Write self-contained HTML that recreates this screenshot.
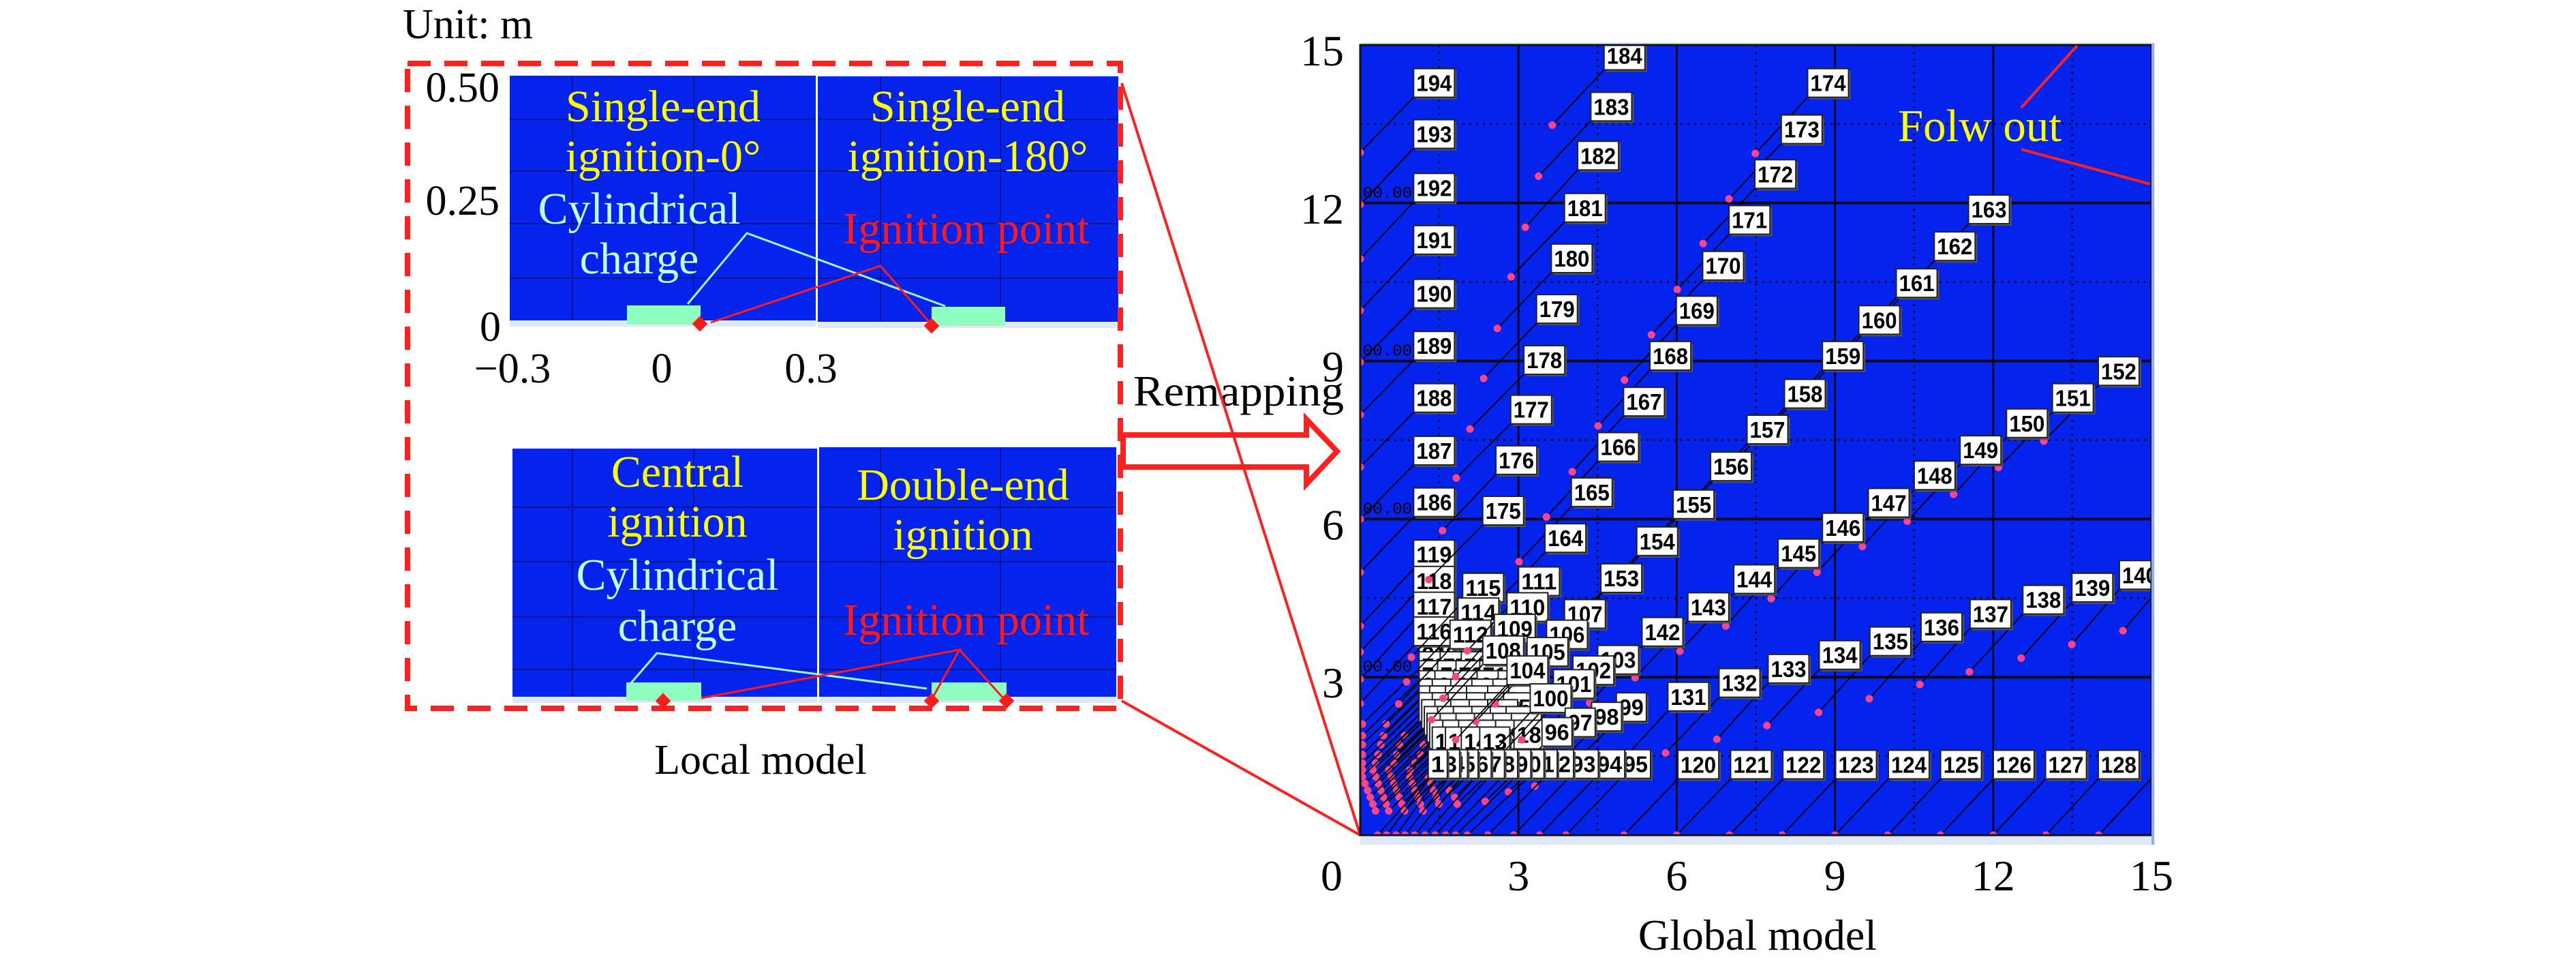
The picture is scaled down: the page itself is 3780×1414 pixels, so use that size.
<!DOCTYPE html>
<html><head><meta charset="utf-8"><style>
html,body{margin:0;padding:0;background:#fff;}
svg{display:block;}
.serif{font-family:"Liberation Serif","DejaVu Serif",serif;}
</style></head><body>
<svg id="fig" width="3780" height="1414" viewBox="0 0 3780 1414" xmlns="http://www.w3.org/2000/svg">
<defs>
<clipPath id="plotclip"><rect x="1996" y="66" width="1161" height="1159"/></clipPath>
</defs>

<!-- LEFT: local model -->
<g class="serif">
<text x="591" y="56" font-size="62">Unit: m</text>
<g>
<rect x="748" y="111" width="449" height="367" fill="#0424ee"/>
<rect x="748" y="470" width="449" height="9" fill="#dfe8f6"/>
<g stroke="#0a1690" stroke-width="2"><line x1="840" y1="111" x2="840" y2="470"/><line x1="1018" y1="111" x2="1018" y2="470"/><line x1="748" y1="251" x2="1197" y2="251"/><line x1="748" y1="328" x2="1197" y2="328"/><line x1="748" y1="408" x2="1197" y2="408"/><line x1="748" y1="175" x2="1197" y2="175"/></g>
</g>
<g>
<rect x="1200" y="112" width="441" height="369" fill="#0424ee"/>
<rect x="1200" y="472" width="441" height="9" fill="#dfe8f6"/>
<g stroke="#0a1690" stroke-width="2"><line x1="1292" y1="112" x2="1292" y2="472"/><line x1="1468" y1="112" x2="1468" y2="472"/><line x1="1200" y1="251" x2="1641" y2="251"/><line x1="1200" y1="328" x2="1641" y2="328"/><line x1="1200" y1="408" x2="1641" y2="408"/><line x1="1200" y1="175" x2="1641" y2="175"/></g>
</g>
<g>
<rect x="752" y="658" width="447" height="373" fill="#0424ee"/>
<rect x="752" y="1022" width="447" height="9" fill="#dfe8f6"/>
<g stroke="#0a1690" stroke-width="2"><line x1="840" y1="658" x2="840" y2="1022"/><line x1="1018" y1="658" x2="1018" y2="1022"/><line x1="752" y1="744" x2="1199" y2="744"/><line x1="752" y1="824" x2="1199" y2="824"/><line x1="752" y1="905" x2="1199" y2="905"/><line x1="752" y1="982" x2="1199" y2="982"/></g>
</g>
<g>
<rect x="1202" y="656" width="436" height="375" fill="#0424ee"/>
<rect x="1202" y="1022" width="436" height="9" fill="#dfe8f6"/>
<g stroke="#0a1690" stroke-width="2"><line x1="1292" y1="656" x2="1292" y2="1022"/><line x1="1468" y1="656" x2="1468" y2="1022"/><line x1="1202" y1="744" x2="1638" y2="744"/><line x1="1202" y1="824" x2="1638" y2="824"/><line x1="1202" y1="905" x2="1638" y2="905"/><line x1="1202" y1="982" x2="1638" y2="982"/></g>
</g>
<rect x="920" y="448" width="108" height="28" fill="#8effc0"/>
<rect x="1367" y="450" width="108" height="28" fill="#8effc0"/>
<rect x="919" y="1001" width="110" height="27" fill="#8effc0"/>
<rect x="1367" y="1001" width="110" height="27" fill="#8effc0"/>
<polyline points="1009,446 1096,342 1387,449" fill="none" stroke="#9ff5ee" stroke-width="3"/>
<polyline points="1043,473 1292,390 1366,475" fill="none" stroke="#ff1a1a" stroke-width="3"/>
<polyline points="925,1003 964,958 1360,1010" fill="none" stroke="#9ff5ee" stroke-width="3"/>
<polyline points="1029,1024 1408,953 1367,1026" fill="none" stroke="#ff1a1a" stroke-width="3"/>
<line x1="1408" y1="953" x2="1474" y2="1026" stroke="#ff1a1a" stroke-width="3"/>
<g fill="#ff1a1a">
<rect x="1019" y="467" width="16" height="16" transform="rotate(45 1027 475)"/>
<rect x="1359" y="470" width="16" height="16" transform="rotate(45 1367 478)"/>
<rect x="965" y="1020" width="16" height="16" transform="rotate(45 973 1028)"/>
<rect x="1359" y="1020" width="16" height="16" transform="rotate(45 1367 1028)"/>
<rect x="1469" y="1020" width="16" height="16" transform="rotate(45 1477 1028)"/>
</g>
<g font-size="66" text-anchor="middle">
<text x="973" y="178" fill="#ffff00">Single-end</text>
<text x="973" y="251" fill="#ffff00">ignition-0°</text>
<text x="938" y="328" fill="#bffff6">Cylindrical</text>
<text x="938" y="401" fill="#bffff6">charge</text>
<text x="1420" y="178" fill="#ffff00">Single-end</text>
<text x="1420" y="251" fill="#ffff00">ignition-180°</text>
<text x="1418" y="357" fill="#ff1a1a">Ignition point</text>
<text x="994" y="714" fill="#ffff00">Central</text>
<text x="994" y="787" fill="#ffff00">ignition</text>
<text x="994" y="865" fill="#bffff6">Cylindrical</text>
<text x="994" y="940" fill="#bffff6">charge</text>
<text x="1413" y="733" fill="#ffff00">Double-end</text>
<text x="1413" y="806" fill="#ffff00">ignition</text>
<text x="1418" y="931" fill="#ff1a1a">Ignition point</text>
</g>
<g font-size="62">
<text x="733" y="149" text-anchor="end">0.50</text>
<text x="733" y="315" text-anchor="end">0.25</text>
<text x="735" y="500" text-anchor="end">0</text>
<text x="752" y="561" text-anchor="middle">−0.3</text>
<text x="971" y="561" text-anchor="middle">0</text>
<text x="1190" y="561" text-anchor="middle">0.3</text>
</g>
<rect x="598" y="93" width="1046" height="946" fill="none" stroke="#ff2020" stroke-width="8" stroke-dasharray="34,20"/>
<text x="1116" y="1135" font-size="62" text-anchor="middle">Local model</text>
</g>

<g>
<polygon points="1648,638 1917,638 1917,615 1962,662 1917,710 1917,685 1648,685" fill="#fff" stroke="#ff2020" stroke-width="8"/>
<text x="1663" y="595" font-size="64" class="serif" textLength="309" lengthAdjust="spacingAndGlyphs">Remapping</text>
</g>
<line x1="1646" y1="122" x2="1996" y2="1225" stroke="#ff2020" stroke-width="4"/>
<line x1="1646" y1="1028" x2="1996" y2="1225" stroke="#ff2020" stroke-width="4"/>

<g id="plot">
<rect x="1996" y="62" width="1166" height="1177" fill="#dfe8f6"/>
<rect x="1996" y="66" width="1161" height="1159" fill="#0424ee"/>
<g id="grid"></g>
<g id="marks" clip-path="url(#plotclip)"></g>
<rect x="1996" y="66" width="1161" height="1159" fill="none" stroke="#111" stroke-width="3"/>
<line x1="3159" y1="64" x2="3159" y2="1239" stroke="#8eb0ee" stroke-width="4"/>
<g id="axes" class="serif" font-size="64"></g>
<text x="2905" y="207" font-size="67" fill="#ffff00" text-anchor="middle" class="serif">Folw out</text>
<line x1="2966" y1="158" x2="3048" y2="67" stroke="#ff2020" stroke-width="4"/>
<line x1="2966" y1="219" x2="3155" y2="270" stroke="#ff2020" stroke-width="4"/>
<text x="2579" y="1393" font-size="64" text-anchor="middle" class="serif">Global model</text>
</g>
</svg>
<script>
const xTicks = [0, 3, 6, 9, 12, 15];
const yTicks = [3, 6, 9, 12, 15];
const minorTicks = [1.5, 4.5, 7.5, 10.5, 13.5];
const labelNum = [194,193,192,191,190,189,188,187,186,119,118,117,116,
 184,183,182,181,180,179,178,177,176,175,
 174,173,172,171,170,169,168,167,166,165,164,
 163,162,161,160,159,158,157,156,155,154,153,
 152,151,150,149,148,147,146,145,144,143,142,
 141,140,139,138,137,136,135,134,133,132,131,
 120,121,122,123,124,125,126,127,128,129,
 115,114,112,111,110,109,108,107,106,105,104,103,102,101,100,99,98,97,96];
const labelX = [1.40,1.40,1.40,1.40,1.40,1.40,1.40,1.40,1.40,1.40,1.40,1.40,1.40,
 5.01,4.76,4.51,4.26,4.01,3.73,3.49,3.24,2.96,2.71,
 8.87,8.37,7.87,7.38,6.88,6.38,5.88,5.38,4.89,4.39,3.89,
 11.92,11.27,10.55,9.84,9.15,8.43,7.72,7.03,6.32,5.63,4.95,
 14.38,13.51,12.64,11.76,10.89,10.02,9.15,8.31,7.47,6.60,5.73,
 15.75,14.78,13.88,12.95,11.95,11.02,10.05,9.09,8.12,7.19,6.22,
 6.41,7.41,8.40,9.40,10.40,11.39,12.39,13.38,14.38,15.38,
 2.33,2.24,2.09,3.39,3.17,2.93,2.71,4.26,3.92,3.55,3.17,4.89,4.42,4.05,3.61,5.14,4.67,4.17,3.73];
const labelY = [14.28,13.31,12.29,11.30,10.28,9.29,8.30,7.30,6.32,5.33,4.83,4.34,3.87,
 14.80,13.83,12.90,11.91,10.95,9.99,9.02,8.08,7.12,6.16,
 14.28,13.40,12.55,11.68,10.81,9.96,9.10,8.23,7.37,6.51,5.64,
 11.88,11.18,10.48,9.78,9.10,8.38,7.70,7.00,6.28,5.58,4.88,
 8.81,8.30,7.82,7.31,6.83,6.31,5.84,5.35,4.86,4.33,3.86,
 5.20,4.94,4.70,4.47,4.20,3.95,3.68,3.42,3.16,2.89,2.63,
 1.34,1.34,1.34,1.34,1.34,1.34,1.34,1.34,1.34,1.34,
 4.70,4.23,3.81,4.82,4.33,3.92,3.51,4.20,3.81,3.48,3.13,3.33,3.13,2.87,2.60,2.43,2.25,2.14,1.96];
const nodeX = [0,0,0,0,0,0,0,0,0,0,0,0,0,
 3.64,3.38,3.13,2.86,2.60,2.34,2.08,1.82,1.56,1.30,
 7.49,6.99,6.50,6.01,5.52,5.01,4.51,4.02,3.53,3.01,2.50,
 10.56,9.91,9.19,8.48,7.79,7.07,6.36,5.67,4.96,4.27,3.59,
 12.96,12.10,11.25,10.37,9.52,8.66,7.79,6.93,6.06,5.21,4.35,
 14.46,13.49,12.53,11.55,10.61,9.65,8.69,7.71,6.76,5.79,4.85,
 5.0,6.0,7.0,8.0,9.0,10.0,11.0,12.0,13.0,14.0,
 0.97,0.88,0.73,2.03,1.81,1.57,1.35,2.90,2.56,2.19,1.81,3.53,3.06,2.69,2.25,3.78,3.31,2.81,2.37];
const nodeY = [12.96,11.97,10.94,9.96,8.98,7.98,6.99,6.00,4.99,3.97,3.48,2.96,2.50,
 13.48,12.51,11.54,10.60,9.62,8.67,7.71,6.78,5.78,4.85,
 12.94,12.08,11.23,10.36,9.50,8.64,7.77,6.90,6.04,5.19,4.33,
 10.55,9.85,9.15,8.45,7.77,7.05,6.37,5.67,4.95,4.25,3.55,
 7.48,6.98,6.47,5.96,5.48,4.99,4.49,3.97,3.49,2.99,2.51,
 3.88,3.62,3.36,3.10,2.86,2.59,2.33,2.08,1.82,1.56,1.30,
 0,0,0,0,0,0,0,0,0,0,
 3.38,2.91,2.49,3.50,3.01,2.60,2.19,2.88,2.49,2.16,1.81,2.01,1.81,1.55,1.28,1.11,0.93,0.82,0.64];
const clusterNum = [81,80,78,77,76,74,73,72,71,69,68,67,66,65,63,62,61,60,59,57,56,55,54,53,52,50,49,48,47,46,45,43,42,41,40,39,37,36,35,34,33,32,30,29,28,27,26,25,23,22,21,20,19,18,16,15,14,13];
const clusterX = [1.40,1.85,1.40,1.80,2.20,1.40,1.75,2.10,2.55,1.40,1.70,2.05,2.50,2.90,1.40,1.65,2.00,2.40,2.80,1.40,1.60,1.90,2.30,2.70,3.10,1.40,1.65,1.95,2.30,2.65,3.00,1.45,1.70,2.00,2.35,2.70,1.50,1.75,2.05,2.40,2.75,3.05,1.55,1.80,2.10,2.45,2.80,3.15,1.60,1.85,2.15,2.50,2.85,3.20,1.65,1.90,2.20,2.55];
const clusterY = [3.43,3.43,3.21,3.21,3.21,3.04,3.04,3.04,3.04,2.85,2.85,2.85,2.85,2.85,2.69,2.69,2.69,2.69,2.69,2.56,2.56,2.56,2.56,2.56,2.56,2.43,2.43,2.43,2.43,2.43,2.43,2.30,2.30,2.30,2.30,2.30,2.17,2.17,2.17,2.17,2.17,2.17,2.04,2.04,2.04,2.04,2.04,2.04,1.91,1.91,1.91,1.91,1.91,1.91,1.78,1.78,1.78,1.78];
const clusterNodeX = [0.04,0.49,0.04,0.44,0.84,0.04,0.39,0.74,1.19,0.04,0.34,0.69,1.14,1.54,0.04,0.29,0.64,1.04,1.44,0.04,0.24,0.54,0.94,1.34,1.74,0.04,0.29,0.59,0.94,1.29,1.64,0.09,0.34,0.64,0.99,1.34,0.14,0.39,0.69,1.04,1.39,1.69,0.19,0.44,0.74,1.09,1.44,1.79,0.24,0.49,0.79,1.14,1.49,1.84,0.29,0.54,0.84,1.19];
const clusterNodeY = [2.11,2.11,1.89,1.89,1.89,1.72,1.72,1.72,1.72,1.53,1.53,1.53,1.53,1.53,1.37,1.37,1.37,1.37,1.37,1.24,1.24,1.24,1.24,1.24,1.24,1.11,1.11,1.11,1.11,1.11,1.11,0.98,0.98,0.98,0.98,0.98,0.85,0.85,0.85,0.85,0.85,0.85,0.72,0.72,0.72,0.72,0.72,0.72,0.59,0.59,0.59,0.59,0.59,0.59,0.46,0.46,0.46,0.46];
const rowNum = [95,94,93,92,91,90,89,88,87,86,85,84,83,1];
const rowX = [5.22,4.73,4.23,3.76,3.45,3.20,2.95,2.70,2.45,2.20,1.95,1.75,1.60,1.47];
const rowY = [1.35,1.35,1.35,1.35,1.35,1.35,1.35,1.35,1.35,1.35,1.35,1.35,1.35,1.35];
const rowNodeX = [3.90,3.40,2.91,2.42,2.03,1.81,1.62,1.42,1.23,1.03,0.85,0.68,0.50,0.33];
const rowNodeY = [0,0,0,0,0,0,0,0,0,0,0,0,0,0];

const NS = 'http://www.w3.org/2000/svg';
const X0 = 1996, X1 = 3157, Y0 = 1225, Y1 = 66;
function sx(v){ return X0 + v * (X1 - X0) / 15; }
function sy(v){ return Y0 - v * (Y0 - Y1) / 15; }
function mk(tag, attrs, parent){
  const e = document.createElementNS(NS, tag);
  for (const k in attrs) e.setAttribute(k, attrs[k]);
  parent.appendChild(e);
  return e;
}
const grid = document.getElementById('grid');
const marks = document.getElementById('marks');
const axes = document.getElementById('axes');

minorTicks.forEach(t => {
  const a = mk('line', {x1: sx(t), y1: Y1, x2: sx(t), y2: Y0, stroke: '#0a0a40', 'stroke-width': 3, 'stroke-dasharray': '3,7'}, grid);
  
  
  const b = mk('line', {x1: X0, y1: sy(t), x2: X1, y2: sy(t), stroke: '#0a0a40', 'stroke-width': 3, 'stroke-dasharray': '3,7'}, grid);
  
  
});
xTicks.slice(1, -1).forEach(t => {
  const a = mk('line', {x1: sx(t), y1: Y1, x2: sx(t), y2: Y0, stroke: '#0a0a20', 'stroke-width': 3}, grid);
  
  
});
yTicks.slice(0, -1).forEach(t => {
  const b = mk('line', {x1: X0, y1: sy(t), x2: X1, y2: sy(t), stroke: '#0a0a20', 'stroke-width': 4}, grid);
  
  
  const s = mk('text', {x: X0 + 4, y: sy(t) - 8, 'font-size': 24, 'font-family': 'Liberation Mono, monospace', fill: '#000'}, grid);
  s.textContent = '00.00';
  
  
});

function drawLabel(num, lx, ly, nx, ny){
  const digits = String(num).length;
  const w = digits === 1 ? 28 : (digits === 2 ? 44 : 60);
  const h = 42;
  const cx = sx(lx), cy = sy(ly);
  const ln = mk('line', {x1: sx(nx), y1: sy(ny), x2: cx - w/2, y2: cy + h/2, stroke: '#000', 'stroke-width': 1.8}, marks);
  
  
  const pt = mk('circle', {cx: sx(nx), cy: sy(ny), r: 5.5, fill: '#ff4585'}, marks);
  
  
  const g = mk('g', {}, marks);
  
  
  mk('rect', {x: cx - w/2 + 3, y: cy - h/2 + 3, width: w, height: h, fill: '#555'}, g);
  mk('rect', {x: cx - w/2, y: cy - h/2, width: w, height: h, fill: '#fff', stroke: '#222', 'stroke-width': 2}, g);
  const t = mk('text', {x: cx, y: cy + 12, 'font-size': 33, 'font-weight': 'bold', 'font-family': 'Liberation Sans, Arial, sans-serif', 'text-anchor': 'middle', textLength: w - 8, lengthAdjust: 'spacingAndGlyphs'}, g);
  t.textContent = num;
}
for (let i = 0; i < clusterNum.length; i++) drawLabel(clusterNum[i], clusterX[i], clusterY[i], clusterNodeX[i], clusterNodeY[i]);
for (let i = 0; i < labelNum.length; i++) drawLabel(labelNum[i], labelX[i], labelY[i], nodeX[i], nodeY[i]);
for (let i = 0; i < rowNum.length; i++) drawLabel(rowNum[i], rowX[i], rowY[i], rowNodeX[i], rowNodeY[i]);

xTicks.forEach(t => {
  const e = mk('text', {x: sx(t) + (t === 0 ? -42 : 0), y: 1306, 'text-anchor': 'middle'}, axes);
  e.textContent = t;
  
  
});
yTicks.forEach(t => {
  const e = mk('text', {x: 1972, y: sy(t) + 30, 'text-anchor': 'end'}, axes);
  e.textContent = t;
  
  
});
</script>
</body></html>
